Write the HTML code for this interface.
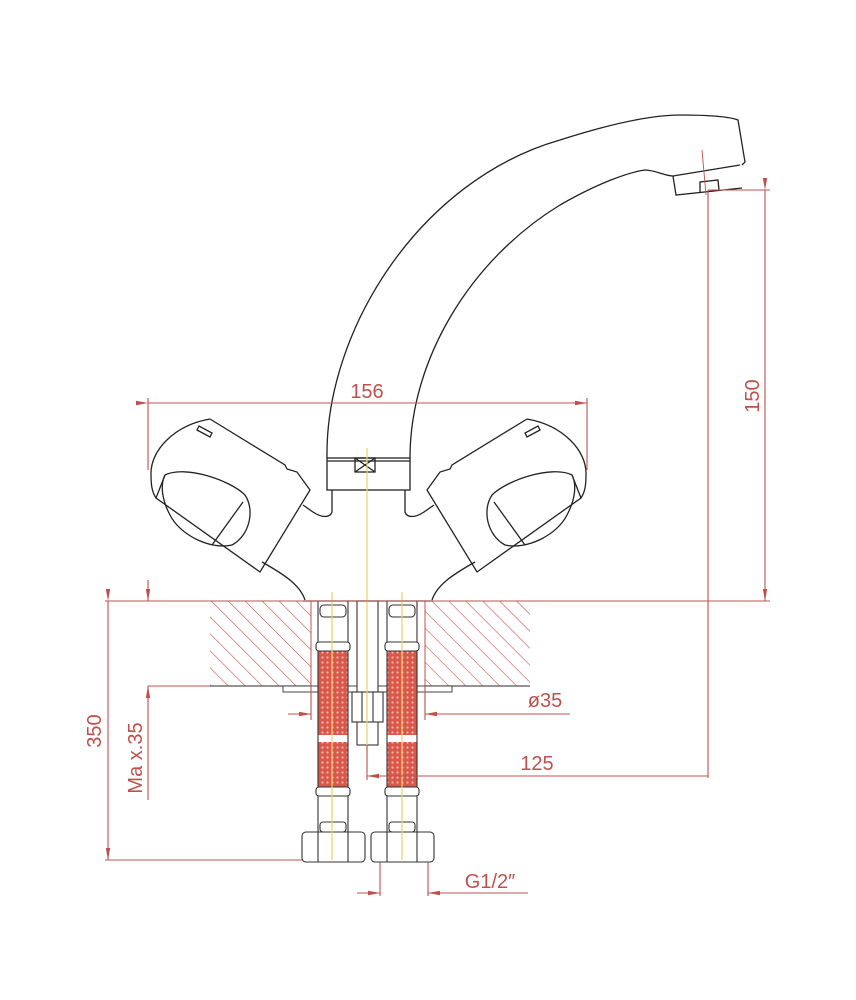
<!DOCTYPE html>
<html><head><meta charset="utf-8"><style>
html,body{margin:0;padding:0;background:#fff;}
svg{display:block;}
text{font-family:"Liberation Sans",sans-serif;fill:#c0504d;font-size:20px;}
</style></head><body>
<svg width="856" height="1000" viewBox="0 0 856 1000" xmlns="http://www.w3.org/2000/svg">
<defs>
<pattern id="hatch" width="12" height="12" patternUnits="userSpaceOnUse" patternTransform="rotate(-45)">
<line x1="0" y1="0" x2="0" y2="12" stroke="#d0605a" stroke-width="1.3"/>
</pattern>
<pattern id="braid" width="5" height="5" patternUnits="userSpaceOnUse">
<rect width="5" height="5" fill="#d8584c"/>
<circle cx="2.5" cy="2.5" r="1.1" fill="#f6b8a8"/>
</pattern>
<marker id="ar" markerWidth="12" markerHeight="6" refX="12" refY="3" orient="auto" markerUnits="userSpaceOnUse">
<path d="M0,0.8 L12,3 L0,5.2z" fill="#c0504d"/>
</marker>
</defs>

<g fill="none" stroke="#222" stroke-width="1.3">
<path d="M327,458 C325,330 420,180 560,140 C610,124 650,115 680,115 C710,115 730,117 738,120 L745,162 L742,165"/>
<path d="M410,458 C410,360 470,260 560,205 C600,182 630,172 645,170 C655,170 665,176 673,176 L740,165"/>
<path d="M673,176 L676,195 L742,188"/>
<path d="M700,192 L700,182 L718,180 L719,190"/>
<rect x="327" y="458" width="83" height="32"/>
<line x1="327" y1="461" x2="410" y2="461"/>
<rect x="355" y="458" width="20" height="14"/>
<path d="M355,458 L375,472 M375,458 L355,472"/>
<path d="M332,490 L332,512 C330,518 322,518 313,512 L303,505"/>
<path d="M262,562 C285,575 300,585 305,600"/>
<g transform="translate(737,0) scale(-1,1)">
<path d="M332,490 L332,512 C330,518 322,518 313,512 L303,505"/>
<path d="M262,562 C285,575 300,585 305,600"/>
</g>
</g>

<g fill="none" stroke="#222" stroke-width="1.3">
<path d="M210,419 C175,425 150,450 151,475 C151,485 152,492 156,498 L260,572 L310,490 L297,472 L287,469 L285,465 L210,419"/>
<path d="M156,498 L165,475"/>
<path d="M165,475 C185,465 230,480 245,495 C255,510 250,535 232,545 C210,550 180,535 170,515 C162,500 160,485 165,475 Z"/>
<line x1="243" y1="502" x2="212" y2="545"/>
<path d="M197,430 L210,437 L212,433 L199,426 Z"/>
</g>
<g transform="translate(737,0) scale(-1,1)" fill="none" stroke="#222" stroke-width="1.3">
<path d="M210,419 C175,425 150,450 151,475 C151,485 152,492 156,498 L260,572 L310,490 L297,472 L287,469 L285,465 L210,419"/>
<path d="M156,498 L165,475"/>
<path d="M165,475 C185,465 230,480 245,495 C255,510 250,535 232,545 C210,550 180,535 170,515 C162,500 160,485 165,475 Z"/>
<line x1="243" y1="502" x2="212" y2="545"/>
<path d="M197,430 L210,437 L212,433 L199,426 Z"/>
</g>

<rect x="210" y="601" width="101" height="85" fill="url(#hatch)"/>
<rect x="425" y="601" width="105" height="85" fill="url(#hatch)"/>
<line x1="210" y1="686" x2="311" y2="686" stroke="#555" stroke-width="1.2"/>
<line x1="425" y1="686" x2="530" y2="686" stroke="#555" stroke-width="1.2"/>
<line x1="311" y1="601" x2="311" y2="686" stroke="#c0504d" stroke-width="1"/>
<line x1="425" y1="601" x2="425" y2="686" stroke="#c0504d" stroke-width="1"/>
<rect x="283" y="686" width="169" height="6" fill="#fff" stroke="#444" stroke-width="1"/>

<g stroke="#333" stroke-width="1.1">
<rect x="318" y="650" width="30" height="85" fill="url(#braid)" stroke="none"/>
<rect x="318" y="742" width="30" height="45" fill="url(#braid)" stroke="none"/>
<rect x="387" y="650" width="30" height="85" fill="url(#braid)" stroke="none"/>
<rect x="387" y="742" width="30" height="45" fill="url(#braid)" stroke="none"/>
<line x1="318" y1="601" x2="318" y2="832"/><line x1="348" y1="601" x2="348" y2="832"/>
<line x1="387" y1="601" x2="387" y2="832"/><line x1="417" y1="601" x2="417" y2="832"/>
<g fill="#fff">
<rect x="320" y="605" width="26" height="12" rx="4"/>
<rect x="316" y="642" width="34" height="9" rx="3"/>
<rect x="316" y="787" width="34" height="9" rx="3"/>
<rect x="320" y="822" width="26" height="10" rx="3"/>
<rect x="389" y="605" width="26" height="12" rx="4"/>
<rect x="385" y="642" width="34" height="9" rx="3"/>
<rect x="385" y="787" width="34" height="9" rx="3"/>
<rect x="389" y="822" width="26" height="10" rx="3"/>
<rect x="302" y="832" width="63" height="30" rx="4"/>
<rect x="371" y="832" width="63" height="30" rx="4"/>
</g>
<line x1="318" y1="832" x2="318" y2="862"/><line x1="348" y1="832" x2="348" y2="862"/>
<line x1="387" y1="832" x2="387" y2="862"/><line x1="417" y1="832" x2="417" y2="862"/>
<rect x="357" y="601" width="21" height="144" fill="#fff"/>
<rect x="352" y="692" width="31" height="30" fill="#fff"/>
<line x1="362" y1="692" x2="362" y2="722"/><line x1="373" y1="692" x2="373" y2="722"/>
</g>
<line x1="303" y1="601" x2="433" y2="601" stroke="#333" stroke-width="1.2"/>

<g stroke="#e8d36a" stroke-width="1.2">
<line x1="367" y1="448" x2="367" y2="752"/>
<line x1="332" y1="592" x2="332" y2="860"/>
<line x1="402" y1="592" x2="402" y2="860"/>
<line x1="702" y1="150" x2="706" y2="195" stroke="#c0504d" stroke-width="0.9"/>
</g>

<g stroke="#c0504d" stroke-width="1.1" fill="none">
<line x1="148" y1="403" x2="587" y2="403" marker-start="url(#ar)" marker-end="url(#ar)"/>
<line x1="148" y1="398" x2="148" y2="470"/>
<line x1="587" y1="398" x2="587" y2="470"/>
<line x1="708" y1="190" x2="770" y2="190"/>
<line x1="708" y1="190" x2="708" y2="778"/>
<line x1="765" y1="190" x2="765" y2="601" marker-start="url(#ar)" marker-end="url(#ar)"/>
<line x1="105" y1="601" x2="770" y2="601"/>
<line x1="108" y1="601" x2="108" y2="860" marker-start="url(#ar)" marker-end="url(#ar)"/>
<line x1="105" y1="860" x2="302" y2="860"/>
<line x1="148" y1="580" x2="148" y2="601" marker-end="url(#ar)"/>
<line x1="148" y1="686" x2="148" y2="800"/>
<line x1="148" y1="686" x2="210" y2="686"/>
<line x1="148" y1="700" x2="148" y2="686" marker-end="url(#ar)"/>
<line x1="288" y1="714" x2="311" y2="714" marker-end="url(#ar)"/>
<line x1="570" y1="714" x2="425" y2="714" marker-end="url(#ar)"/>
<line x1="311" y1="686" x2="311" y2="720"/>
<line x1="425" y1="686" x2="425" y2="720"/>
<line x1="367" y1="745" x2="367" y2="780"/>
<line x1="708" y1="776" x2="367" y2="776" marker-end="url(#ar)"/>
<line x1="380" y1="862" x2="380" y2="896"/>
<line x1="428" y1="862" x2="428" y2="896"/>
<line x1="357" y1="893" x2="380" y2="893" marker-end="url(#ar)"/>
<line x1="528" y1="893" x2="428" y2="893" marker-end="url(#ar)"/>
</g>
<text x="367" y="398" text-anchor="middle">156</text>
<text transform="translate(759,396) rotate(-90)" text-anchor="middle">150</text>
<text transform="translate(101,731) rotate(-90)" text-anchor="middle">350</text>
<text transform="translate(142,758) rotate(-90)" text-anchor="middle">Ma x.35</text>
<text x="545" y="707" text-anchor="middle">ø35</text>
<text x="537" y="770" text-anchor="middle">125</text>
<text x="490" y="888" text-anchor="middle">G1/2″</text>
</svg>
</body></html>
